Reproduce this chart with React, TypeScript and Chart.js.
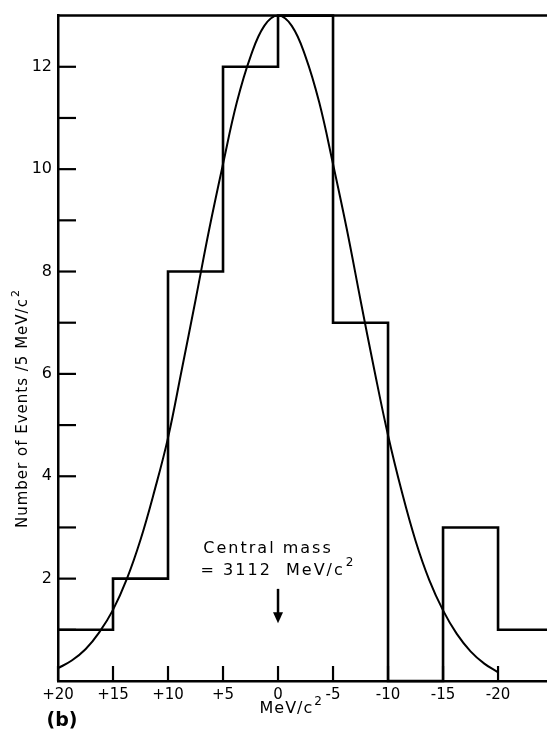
import { useEffect, useRef } from 'react';
import { Chart, registerables } from 'chart.js';

Chart.register(...registerables);

// Histogram: bin edges (MeV/c^2, axis runs from +20 down to -25) and events per bin
const binEdges = [20, 15, 10, 5, 0, -5, -10, -15, -20, -25];
const counts = [1, 2, 8, 12, 13, 7, 0, 3, 1];

// Fitted curve
const fitX = [20, 18.75, 17.5, 16.25, 15, 13.75, 12.5, 11.25, 10, 8.75, 7.5, 6.25, 5, 3.75, 2.5, 1.25, 0,
  -1.25, -2.5, -3.75, -5, -6.25, -7.5, -8.75, -10, -11.25, -12.5, -13.75, -15, -16.25, -17.5, -18.75, -20];
const fitY = [0.25, 0.4, 0.62, 0.95, 1.39, 1.99, 2.76, 3.7, 4.75, 6.08, 7.44, 8.83, 10.1, 11.3, 12.2, 12.8, 13.0,
  12.8, 12.2, 11.3, 10.1, 8.83, 7.44, 6.08, 4.8, 3.7, 2.74, 1.97, 1.38, 0.92, 0.58, 0.34, 0.17];

// Axis ticks
const xTicks = [20, 15, 10, 5, 0, -5, -10, -15, -20];
const xTickLabels = ['+20', '+15', '+10', '+5', '0', '-5', '-10', '-15', '-20'];
const yTicks = [1, 2, 3, 4, 5, 6, 7, 8, 9, 10, 11, 12];
const yTickLabels = ['', '2', '', '4', '', '6', '', '8', '', '10', '', '12'];

const FONT = "'DejaVu Sans', sans-serif";

function drawSup(ctx: CanvasRenderingContext2D, base: string, sup: string, x: number, y: number, size: number, align: 'left' | 'center') {
  ctx.font = `${size}px ${FONT}`;
  const w1 = ctx.measureText(base).width;
  ctx.font = `${Math.round(size * 0.72)}px ${FONT}`;
  const w2 = ctx.measureText(sup).width;
  const total = w1 + 1 + w2;
  const sx = align === 'center' ? x - total / 2 : x;
  ctx.textAlign = 'left';
  ctx.textBaseline = 'middle';
  ctx.font = `${size}px ${FONT}`;
  ctx.fillText(base, sx, y);
  ctx.font = `${Math.round(size * 0.72)}px ${FONT}`;
  ctx.fillText(sup, sx + w1 + 1, y - size * 0.45);
}

const decorPlugin = {
  id: 'decor',
  afterDraw(chart: any) {
    const { ctx, chartArea, scales } = chart;
    const xs = scales.x;
    const ys = scales.y;
    ctx.save();
    ctx.strokeStyle = '#000';
    ctx.fillStyle = '#000';
    ctx.lineCap = 'butt';
    // top frame line
    ctx.lineWidth = 2.5;
    ctx.beginPath();
    ctx.moveTo(chartArea.left - 1, chartArea.top);
    ctx.lineTo(chartArea.right, chartArea.top);
    ctx.stroke();
    // inward y ticks
    ctx.lineWidth = 2.2;
    yTicks.forEach((v) => {
      const py = ys.getPixelForValue(v);
      ctx.beginPath();
      ctx.moveTo(chartArea.left, py);
      ctx.lineTo(chartArea.left + 18, py);
      ctx.stroke();
    });
    // inward x ticks
    xTicks.forEach((v) => {
      const px = xs.getPixelForValue(v);
      ctx.beginPath();
      ctx.moveTo(px, chartArea.bottom);
      ctx.lineTo(px, chartArea.bottom - 15);
      ctx.stroke();
    });
    // annotation
    const cx = xs.getPixelForValue(0);
    ctx.textAlign = 'center';
    ctx.textBaseline = 'middle';
    (ctx as any).letterSpacing = '2px';
    ctx.font = `16px ${FONT}`;
    ctx.fillText('Central mass', cx - 10, ys.getPixelForValue(2.58));
    drawSup(ctx, '= 3112  MeV/c', '2', cx, ys.getPixelForValue(2.16), 16, 'center');
    (ctx as any).letterSpacing = '0px';
    // arrow
    const a0 = ys.getPixelForValue(1.8);
    const a1 = ys.getPixelForValue(1.13);
    ctx.lineWidth = 2.5;
    ctx.beginPath();
    ctx.moveTo(cx, a0);
    ctx.lineTo(cx, a1 - 8);
    ctx.stroke();
    ctx.beginPath();
    ctx.moveTo(cx - 5, a1 - 11);
    ctx.lineTo(cx + 5, a1 - 11);
    ctx.lineTo(cx, a1);
    ctx.closePath();
    ctx.fill();
    // x axis title
    (ctx as any).letterSpacing = '1px';
    drawSup(ctx, 'MeV/c', '2', xs.getPixelForValue(-1.2), 709, 16, 'center');
    // y axis title (rotated)
    ctx.save();
    ctx.translate(23, 528);
    ctx.rotate(-Math.PI / 2);
    drawSup(ctx, 'Number of Events /5 MeV/c', '2', 0, 0, 15, 'left');
    ctx.restore();
    (ctx as any).letterSpacing = '0px';
    // panel label
    ctx.font = `bold 19px ${FONT}`;
    ctx.textAlign = 'center';
    ctx.textBaseline = 'middle';
    ctx.fillText('(b)', 62, 721);
    ctx.restore();
  },
};

export default function App() {
  const ref = useRef<HTMLCanvasElement | null>(null);
  useEffect(() => {
    if (!ref.current) return;
    const stepData = binEdges.map((e, i) => ({ x: e, y: counts[Math.min(i, counts.length - 1)] }));
    const fitData = fitX.map((x, i) => ({ x, y: fitY[i] }));
    const chart = new Chart(ref.current, {
      type: 'line',
      data: {
        datasets: [
          {
            data: stepData,
            stepped: 'before',
            borderColor: '#000',
            borderWidth: 2.6,
            pointRadius: 0,
            fill: false,
            clip: false as any,
          },
          {
            data: fitData,
            tension: 0.4,
            borderColor: '#000',
            borderWidth: 2,
            pointRadius: 0,
            fill: false,
          },
        ],
      },
      options: {
        responsive: false,
        animation: false,
        layout: { padding: { top: 11, left: 0, right: 0, bottom: 0 } },
        plugins: { legend: { display: false }, tooltip: { enabled: false } },
        scales: {
          x: {
            type: 'linear',
            reverse: true,
            min: -24.45,
            max: 20,
            afterBuildTicks: (s: any) => {
              s.ticks = xTicks.map((v) => ({ value: v }));
            },
            afterFit: (s: any) => {
              s.height = 50;
            },
            grid: { display: false, drawTicks: false },
            border: { display: true, color: '#000', width: 2.5 },
            ticks: {
              color: '#000',
              font: { family: FONT, size: 15 },
              padding: 5,
              maxRotation: 0,
              autoSkip: false,
              callback: (v: any) => {
                const i = xTicks.indexOf(Number(v));
                return i >= 0 ? xTickLabels[i] : '';
              },
            },
          },
          y: {
            type: 'linear',
            min: 0,
            max: 13,
            afterBuildTicks: (s: any) => {
              s.ticks = yTicks.map((v) => ({ value: v }));
            },
            afterFit: (s: any) => {
              s.width = 58;
            },
            grid: { display: false, drawTicks: false },
            border: { display: true, color: '#000', width: 2.5 },
            ticks: {
              color: '#000',
              font: { family: FONT, size: 16 },
              padding: 6,
              autoSkip: false,
              callback: (v: any) => {
                const i = yTicks.indexOf(Number(v));
                return i >= 0 ? yTickLabels[i] : '';
              },
            },
          },
        },
      },
      plugins: [decorPlugin],
    });
    return () => chart.destroy();
  }, []);
  return (
    <div style={{ position: 'absolute', left: 0, top: 0, width: 547, height: 731, background: '#fff' }}>
      <canvas ref={ref} width={547} height={731} style={{ display: 'block', width: 547, height: 731 }} />
    </div>
  );
}
